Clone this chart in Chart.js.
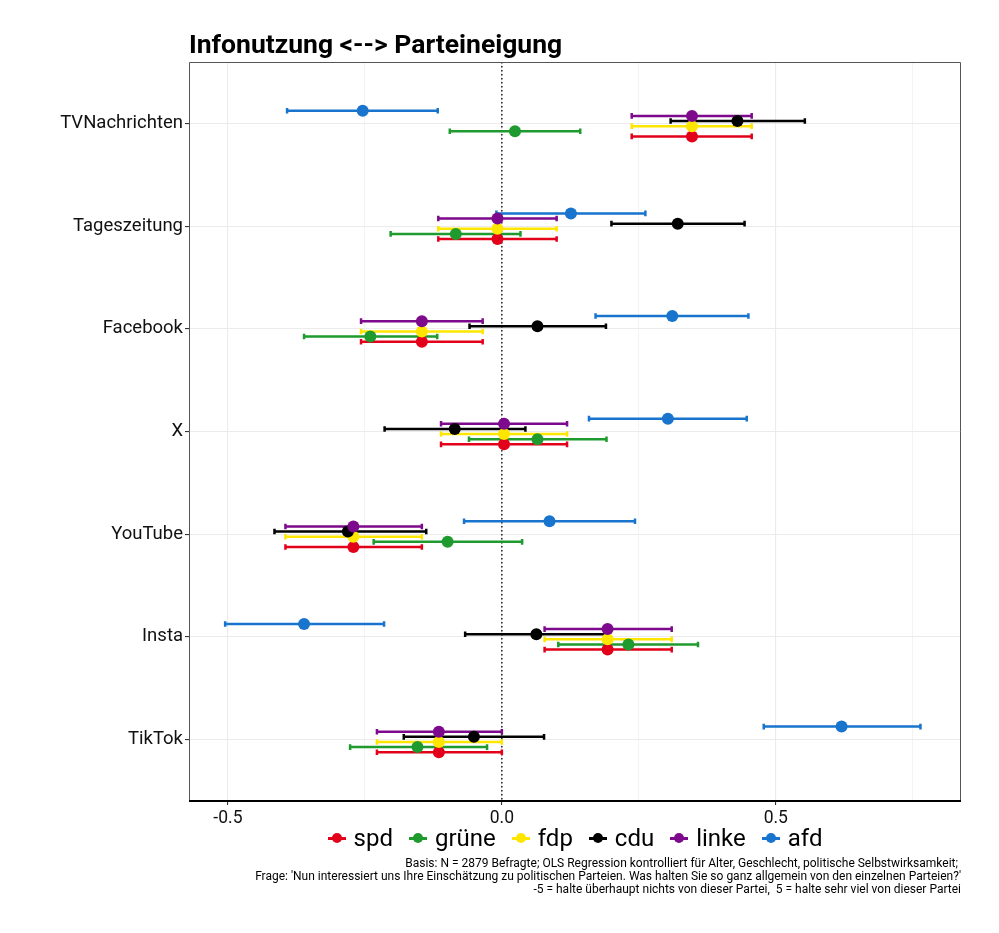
<!DOCTYPE html>
<html lang="de">
<head>
    <meta charset="UTF-8">
    <title>Infonutzung &lt;--&gt; Parteineigung</title>
    <script src="https://cdn.jsdelivr.net/npm/chart.js@4.4.1/dist/chart.umd.min.js"></script>
    <style>
        body { margin: 0; background: #fff; font-family: Roboto, "DejaVu Sans", sans-serif; }
        #wrap { position: relative; width: 999px; height: 933px; }
        #chart { position: absolute; left: 0; top: 0; }
        #title { position: absolute; left: 189px; top: 28px; font-size: 26.5px; font-weight: bold; color: #000; white-space: pre; }
        #legend { position: absolute; left: 189px; width: 772px; top: 822px; height: 32px; display: flex; justify-content: center; align-items: center; }
        .item { display: flex; align-items: center; margin: 0 8px; font-size: 24px; color: #000; }
        .key { position: relative; width: 18px; height: 18px; margin-right: 8px; }
        .key .bar { position: absolute; left: 0; right: 0; top: 8px; height: 2.5px; }
        .key .dot { position: absolute; left: 4px; top: 4px; width: 10px; height: 10px; border-radius: 50%; }
        #caption { position: absolute; right: 38px; top: 857px; font-size: 12px; line-height: 13px; text-align: right; white-space: pre; color: #000; }
    </style>
</head>
<body>
<div id="wrap">
    <canvas id="chart" width="999" height="933"></canvas>
    <div id="title">Infonutzung &lt;--&gt; Parteineigung</div>
    <div id="legend"></div>
    <div id="caption"></div>
</div>
<script>
    // categories top to bottom
    const categories = ['TVNachrichten', 'Tageszeitung', 'Facebook', 'X', 'YouTube', 'Insta', 'TikTok'];
    const parties = ['spd', 'grüne', 'fdp', 'cdu', 'linke', 'afd'];
    const partyColors = ['#E2001A', '#1E9A2E', '#FFE600', '#000000', '#7D0A8C', '#1874CD'];

    // estimates and confidence bounds per party (same order as categories)
    const spdEst  = [0.347, -0.008, -0.146, 0.004, -0.271, 0.193, -0.115];
    const spdLow  = [0.237, -0.116, -0.257, -0.111, -0.395, 0.078, -0.228];
    const spdHigh = [0.456, 0.100, -0.035, 0.119, -0.146, 0.310, 0.000];

    const grueneEst  = [0.024, -0.084, -0.240, 0.065, -0.099, 0.231, -0.154];
    const grueneLow  = [-0.095, -0.203, -0.361, -0.060, -0.234, 0.103, -0.277];
    const grueneHigh = [0.143, 0.034, -0.118, 0.191, 0.037, 0.358, -0.027];

    const fdpEst  = [0.347, -0.008, -0.146, 0.004, -0.271, 0.193, -0.115];
    const fdpLow  = [0.237, -0.116, -0.257, -0.111, -0.395, 0.078, -0.228];
    const fdpHigh = [0.456, 0.100, -0.035, 0.119, -0.146, 0.310, 0.000];

    const cduEst  = [0.430, 0.321, 0.065, -0.086, -0.281, 0.063, -0.051];
    const cduLow  = [0.308, 0.200, -0.059, -0.214, -0.415, -0.067, -0.179];
    const cduHigh = [0.553, 0.443, 0.190, 0.043, -0.138, 0.190, 0.077];

    const linkeEst  = [0.347, -0.008, -0.146, 0.004, -0.271, 0.193, -0.115];
    const linkeLow  = [0.237, -0.116, -0.257, -0.111, -0.395, 0.078, -0.228];
    const linkeHigh = [0.456, 0.100, -0.035, 0.119, -0.146, 0.310, 0.000];

    const afdEst  = [-0.254, 0.126, 0.311, 0.303, 0.087, -0.361, 0.620];
    const afdLow  = [-0.392, -0.010, 0.171, 0.159, -0.069, -0.505, 0.478];
    const afdHigh = [-0.117, 0.262, 0.450, 0.447, 0.243, -0.215, 0.764];

    const xTicks = [-0.5, -0.25, 0, 0.25, 0.5, 0.75];
    const xTickLabels = { '-0.5': '-0.5', '0': '0.0', '0.5': '0.5' };

    const captionLines = [
        'Basis: N = 2879 Befragte; OLS Regression kontrolliert für Alter, Geschlecht, politische Selbstwirksamkeit; ',
        "Frage: 'Nun interessiert uns Ihre Einschätzung zu politischen Parteien. Was halten Sie so ganz allgemein von den einzelnen Parteien?'",
        '-5 = halte überhaupt nichts von dieser Partei,  5 = halte sehr viel von dieser Partei'
    ];

    const series = [
        [spdEst, spdLow, spdHigh],
        [grueneEst, grueneLow, grueneHigh],
        [fdpEst, fdpLow, fdpHigh],
        [cduEst, cduLow, cduHigh],
        [linkeEst, linkeLow, linkeHigh],
        [afdEst, afdLow, afdHigh]
    ];

    // dodge: parties spread vertically around each category
    const dodge = 0.05;
    const nCat = categories.length;
    const datasets = parties.map((p, j) => ({
        label: p,
        data: categories.map((c, i) => ({
            x: series[j][0][i],
            y: (nCat - i) + (j - (parties.length - 1) / 2) * dodge,
            lo: series[j][1][i],
            hi: series[j][2][i]
        })),
        backgroundColor: partyColors[j],
        borderWidth: 0,
        pointRadius: 6,
        pointHoverRadius: 6,
        order: parties.length - j
    }));

    // dotted zero line + error bars + panel border
    const extras = {
        id: 'extras',
        beforeDatasetsDraw(chart) {
            const { ctx, chartArea, scales } = chart;
            const xs = scales.x;
            ctx.save();
            ctx.strokeStyle = '#000';
            ctx.lineWidth = 1.3;
            ctx.setLineDash([1.5, 2.5]);
            const x0 = xs.getPixelForValue(0);
            ctx.beginPath();
            ctx.moveTo(x0, chartArea.top);
            ctx.lineTo(x0, chartArea.bottom);
            ctx.stroke();
            ctx.setLineDash([]);
            chart.data.datasets.forEach((ds, j) => {
                const meta = chart.getDatasetMeta(j);
                ctx.strokeStyle = ds.backgroundColor;
                ctx.lineWidth = 2.5;
                meta.data.forEach((pt, k) => {
                    const d = ds.data[k];
                    const a = xs.getPixelForValue(d.lo);
                    const b = xs.getPixelForValue(d.hi);
                    ctx.beginPath();
                    ctx.moveTo(a, pt.y);
                    ctx.lineTo(b, pt.y);
                    ctx.moveTo(a, pt.y - 2.8);
                    ctx.lineTo(a, pt.y + 2.8);
                    ctx.moveTo(b, pt.y - 2.8);
                    ctx.lineTo(b, pt.y + 2.8);
                    ctx.stroke();
                });
            });
            ctx.restore();
        },
        afterDraw(chart) {
            const { ctx, chartArea } = chart;
            ctx.save();
            ctx.strokeStyle = '#555';
            ctx.lineWidth = 1;
            ctx.beginPath();
            ctx.moveTo(chartArea.left + 0.5, chartArea.bottom);
            ctx.lineTo(chartArea.left + 0.5, chartArea.top + 0.5);
            ctx.lineTo(chartArea.right - 0.5, chartArea.top + 0.5);
            ctx.lineTo(chartArea.right - 0.5, chartArea.bottom);
            ctx.stroke();
            ctx.strokeStyle = '#000';
            ctx.lineWidth = 2;
            ctx.beginPath();
            ctx.moveTo(chartArea.left, chartArea.bottom);
            ctx.lineTo(chartArea.right, chartArea.bottom);
            ctx.stroke();
            ctx.restore();
        }
    };

    new Chart(document.getElementById('chart'), {
        type: 'scatter',
        data: { datasets },
        options: {
            responsive: false,
            animation: false,
            layout: { padding: { top: 62, right: 38, bottom: 102, left: 0 } },
            plugins: {
                legend: { display: false },
                tooltip: { enabled: false },
                title: { display: false }
            },
            scales: {
                x: {
                    type: 'linear',
                    min: -0.571,
                    max: 0.838,
                    afterFit: (s) => { s.height = 30; },
                    afterBuildTicks: (s) => { s.ticks = xTicks.map(v => ({ value: v })); },
                    border: { display: false },
                    grid: {
                        color: '#EBEBEB',
                        lineWidth: (c) => (c.tick && xTickLabels[String(c.tick.value)] ? 1.1 : 0.6),
                        tickColor: (c) => (c.tick && xTickLabels[String(c.tick.value)] ? '#333' : 'rgba(0,0,0,0)'),
                        tickLength: 4
                    },
                    ticks: {
                        padding: 3,
                        color: '#111',
                        font: { family: 'Roboto', size: 17.5 },
                        maxRotation: 0,
                        autoSkip: false,
                        callback: (v) => xTickLabels[String(v)] || ''
                    }
                },
                y: {
                    type: 'linear',
                    min: 0.4,
                    max: nCat + 0.6,
                    afterFit: (s) => { s.width = 189; },
                    afterBuildTicks: (s) => { s.ticks = categories.map((c, i) => ({ value: nCat - i })); },
                    border: { display: false },
                    grid: { color: '#EBEBEB', lineWidth: 1.1, tickColor: '#333', tickLength: 4 },
                    ticks: {
                        padding: 2,
                        color: '#111',
                        font: { family: 'Roboto', size: 18.5 },
                        autoSkip: false,
                        callback: (v) => categories[nCat - v]
                    }
                }
            }
        },
        plugins: [extras]
    });

    // legend and caption as page text
    const legend = document.getElementById('legend');
    parties.forEach((p, j) => {
        const item = document.createElement('div');
        item.className = 'item';
        item.innerHTML = '<span class="key"><span class="bar" style="background:' + partyColors[j] +
            '"></span><span class="dot" style="background:' + partyColors[j] + '"></span></span>' + p;
        legend.appendChild(item);
    });
    document.getElementById('caption').textContent = captionLines.join('\n');
</script>
</body>
</html>
